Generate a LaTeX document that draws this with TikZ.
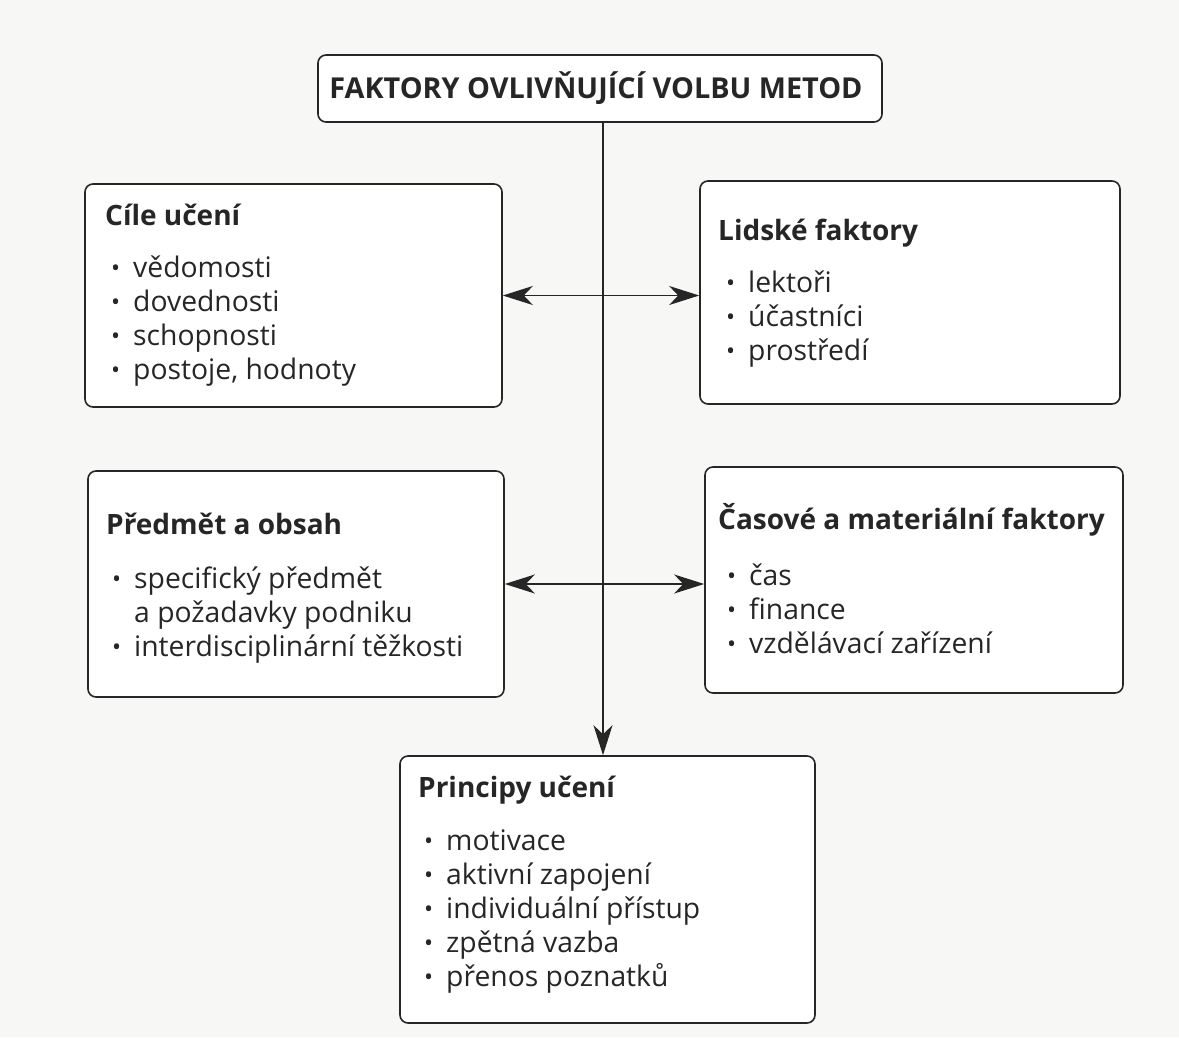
\documentclass[tikz,border=0pt]{standalone}
\usepackage{fontspec}
\setmainfont{Open Sans}
\usetikzlibrary{arrows.meta}
\definecolor{ink}{HTML}{262626}
\definecolor{paper}{HTML}{F7F7F5}
\newcommand{\bl}{\makebox[22pt][l]{\raisebox{0.5pt}{\scalebox{0.85}{\textbullet}}}}
\newcommand{\cont}{\makebox[22pt][l]{}}
\newenvironment{pointlist}{\begin{tabular}[t]{@{}l@{}}}{\end{tabular}}
\begin{document}
\begin{tikzpicture}[x=1pt,y=-1pt,
  >={Stealth[length=30pt,width=19pt,inset=9pt]},
  box/.style={draw=ink, line width=1.6pt, rounded corners=8pt, fill=white, inner sep=0pt},
  head/.style={anchor=base west, font=\fontsize{28}{34}\selectfont\bfseries, text=ink, inner sep=0pt},
  items/.style={anchor=base west, font=\fontsize{28.3}{34}\selectfont, text=ink, inner sep=0pt},
  link/.style={draw=ink, line width=1.5pt}
]
% paper
\fill[paper] (0,0) rectangle (1179,1037);
\useasboundingbox (0,0) rectangle (1179,1037);

% title
\node[box, minimum width=564pt, minimum height=67pt] (title) at (600,88.5) {};
\node[anchor=base, font=\fontsize{28.8}{34}\selectfont\bfseries, text=ink, inner sep=0pt] (titletext) at (596,98) {FAKTORY OVLIVŇUJÍCÍ VOLBU METOD};

% boxes
\node[box, minimum width=417pt, minimum height=223pt] (cile) at (293.5,295.5) {};
\node[box, minimum width=420pt, minimum height=223pt] (lidske) at (910,292.5) {};
\node[box, minimum width=416pt, minimum height=226pt] (predmet) at (296,584) {};
\node[box, minimum width=418pt, minimum height=226pt] (casove) at (914,580) {};
\node[box, minimum width=415pt, minimum height=267pt] (principy) at (607.5,889.5) {};

% contents
\node[head] (cileh) at (105,225) {Cíle učení};
\node[items] (cilei) at (111,277) {\begin{pointlist}
\bl vědomosti\\ \bl dovednosti\\ \bl schopnosti\\ \bl postoje, hodnoty
\end{pointlist}};

\node[head] (lidskeh) at (718,240) {Lidské faktory};
\node[items] (lidskei) at (726,292) {\begin{pointlist}
\bl lektoři\\ \bl účastníci\\ \bl prostředí
\end{pointlist}};

\node[head] (predmeth) at (106,534) {Předmět a obsah};
\node[items] (predmeti) at (112,588) {\begin{pointlist}
\bl specifický předmět\\ \cont a požadavky podniku\\ \bl interdisciplinární těžkosti
\end{pointlist}};

\node[head] (casoveh) at (718,529) {Časové a materiální faktory};
\node[items] (casovei) at (727,585) {\begin{pointlist}
\bl čas\\ \bl finance\\ \bl vzdělávací zařízení
\end{pointlist}};

\node[head] (principyh) at (418,797) {Principy učení};
\node[items] (principyi) at (424,850) {\begin{pointlist}
\bl motivace\\ \bl aktivní zapojení\\ \bl individuální přístup\\ \bl zpětná vazba\\ \bl přenos poznatků
\end{pointlist}};

% connectors
\coordinate (spine) at (603,0);
\draw[link, ->] (title.south -| spine) -- (principy.north -| spine);
\draw[link, <->] (cile.east) -- (cile.east -| lidske.west);
\draw[link, <->] (predmet.east) -- (predmet.east -| casove.west);
\end{tikzpicture}
\end{document}
